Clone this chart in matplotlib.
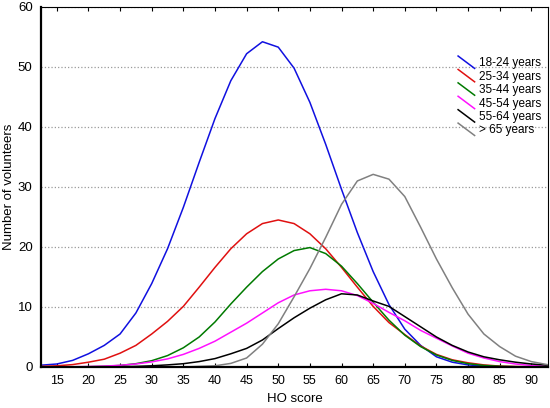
import numpy as np
import matplotlib
matplotlib.use("Agg")
import matplotlib.pyplot as plt
from matplotlib.lines import Line2D
from matplotlib.legend_handler import HandlerBase

plt.rcParams['font.family'] = ['Liberation Sans', 'DejaVu Sans']

# HO score grid (values every 2.5 points)
ho_score = [12.5, 15, 17.5, 20, 22.5, 25, 27.5, 30, 32.5, 35, 37.5, 40, 42.5,
            45, 47.5, 50, 52.5, 55, 57.5, 60, 62.5, 65, 67.5, 70, 72.5, 75,
            77.5, 80, 82.5, 85, 87.5, 90, 92.5]

age_18_24 = [0.3, 0.5, 1.1, 2.2, 3.6, 5.5, 9.0, 13.9, 19.7, 26.6, 34.1, 41.4, 47.7,
             52.2, 54.2, 53.3, 49.8, 44.1, 37.1, 29.6, 22.4, 15.9, 10.4, 6.3, 3.6, 1.7,
             0.8, 0.35, 0.15, 0.05, 0.02, 0.0, 0.0]
age_25_34 = [0.1, 0.2, 0.4, 0.8, 1.3, 2.3, 3.6, 5.5, 7.6, 10.1, 13.3, 16.6, 19.7,
             22.2, 23.9, 24.5, 23.9, 22.2, 19.7, 16.6, 13.3, 10.1, 7.4, 5.4, 3.5, 2.1,
             1.2, 0.7, 0.35, 0.15, 0.08, 0.04, 0.02]
age_35_44 = [0.0, 0.0, 0.02, 0.05, 0.12, 0.26, 0.55, 1.05, 1.9, 3.2, 5.0, 7.5, 10.5,
             13.3, 15.9, 18.0, 19.4, 19.9, 18.9, 16.8, 13.9, 10.8, 7.8, 5.3, 3.4, 2.0,
             1.1, 0.55, 0.26, 0.12, 0.05, 0.02, 0.0]
age_45_54 = [0.0, 0.02, 0.04, 0.08, 0.15, 0.28, 0.5, 0.85, 1.35, 2.1, 3.1, 4.3, 5.8,
             7.3, 9.0, 10.7, 12.0, 12.7, 12.95, 12.7, 11.9, 10.6, 9.1, 7.7, 6.1, 4.8,
             3.5, 2.3, 1.5, 0.9, 0.5, 0.25, 0.1]
age_55_64 = [0.0, 0.0, 0.0, 0.0, 0.02, 0.05, 0.1, 0.2, 0.35, 0.55, 0.9, 1.4, 2.2,
             3.1, 4.5, 6.4, 8.2, 9.8, 11.2, 12.2, 12.0, 11.0, 10.1, 8.4, 6.7, 5.0,
             3.6, 2.5, 1.7, 1.2, 0.8, 0.5, 0.3]
age_65_up = [0.0, 0.0, 0.0, 0.0, 0.0, 0.0, 0.0, 0.0, 0.0, 0.0, 0.1, 0.2, 0.6,
             1.5, 3.8, 7.2, 11.7, 16.4, 21.6, 27.1, 31.0, 32.1, 31.3, 28.4, 23.3, 18.0,
             13.2, 8.8, 5.5, 3.4, 1.8, 0.9, 0.4]

labels = ['18-24 years', '25-34 years', '35-44 years', '45-54 years', '55-64 years', '> 65 years']
colors = ['#1010e0', '#e01010', '#007a00', '#ff10ff', '#000000', '#808080']
series = [age_18_24, age_25_34, age_35_44, age_45_54, age_55_64, age_65_up]


class SlantHandler(HandlerBase):
    # legend key drawn as a short line sloping down to the right
    def create_artists(self, legend, orig_handle, xdescent, ydescent,
                       width, height, fontsize, trans):
        x0 = -xdescent
        y0 = -ydescent
        line = Line2D([x0, x0 + width], [y0 + height * 1.25, y0 - height * 0.25],
                      color=orig_handle.get_color(), lw=orig_handle.get_linewidth(),
                      transform=trans)
        return [line]


fig = plt.figure(figsize=(5.5, 4.08), dpi=100)
ax = fig.add_axes([0.0745, 0.1005, 0.9215, 0.8825])

lines = []
for ys, c, lab in zip(series, colors, labels):
    ln, = ax.plot(ho_score, ys, color=c, lw=1.1, label=lab)
    lines.append(ln)

ax.set_xlim(12.5, 92.6)
ax.set_ylim(0, 60)
ax.set_xticks(np.arange(15, 91, 5))
ax.set_yticks(np.arange(0, 61, 10))
ax.yaxis.grid(True, linestyle=':', color='#9a9a9a', lw=0.9)
ax.set_axisbelow(True)

ax.tick_params(axis='x', direction='in', top=True, length=3, labelsize=9, pad=6, width=0.8)
ax.tick_params(axis='y', length=0, labelsize=9.5, pad=6)

for side in ['left', 'bottom']:
    ax.spines[side].set_linewidth(1.6)
for side in ['top', 'right']:
    ax.spines[side].set_linewidth(0.8)

ax.set_xlabel('HO score', fontsize=9.5, labelpad=4)
ax.set_ylabel('Number of volunteers', fontsize=9.5, labelpad=2)

ax.legend(handles=lines, handler_map={Line2D: SlantHandler()},
          loc='upper left', bbox_to_anchor=(0.823, 0.86), frameon=False,
          fontsize=8.5, handlelength=1.4, handletextpad=0.4,
          labelspacing=0.12, borderpad=0, borderaxespad=0)

fig.savefig('out.png', dpi=100)
